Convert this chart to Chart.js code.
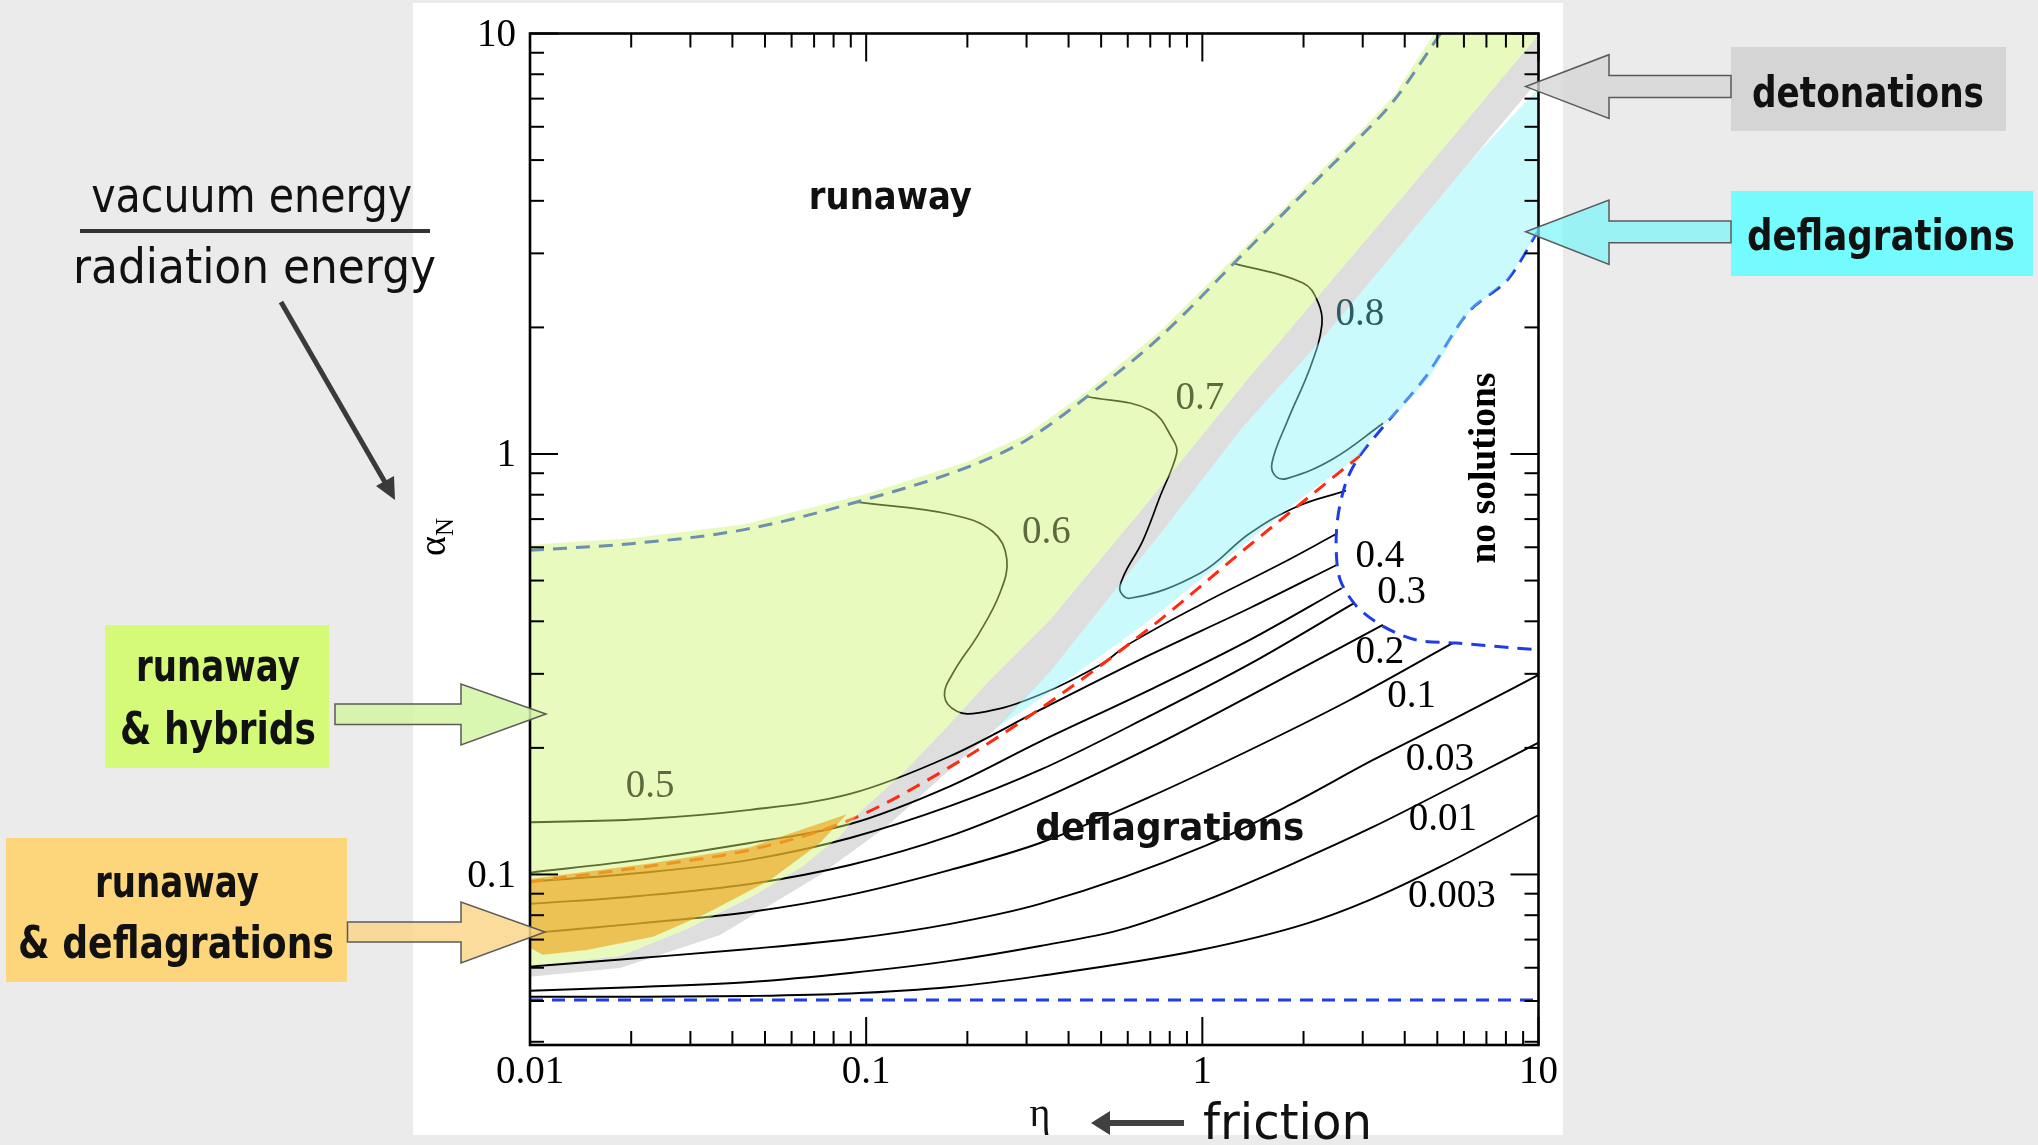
<!DOCTYPE html>
<html>
<head>
<meta charset="utf-8">
<script src="https://cdn.jsdelivr.net/npm/chart.js@4.4.1/dist/chart.umd.min.js"></script>
<style>
  html, body { margin: 0; padding: 0; background: #ebebeb; overflow: hidden; }
</style>
</head>
<body>
<canvas id="phaseChart" width="2038" height="1145"></canvas>
<script>
// axis ranges and tick labels
const etaTicks = [0.01, 0.1, 1, 10];
const etaTickText = ["0.01", "0.1", "1", "10"];
const alphaTicks = [0.1, 1, 10];
const alphaTickText = ["0.1", "1", "10"];

// boundaries [eta, alpha_N]
const runawayBoundary = [[0.01,0.59],[0.02,0.612],[0.043,0.66],[0.1,0.78],[0.2,0.93],[0.3,1.08],[0.46,1.38],[0.75,1.9],[1.3,2.95],[2.2,4.5],[2.9,5.6],[3.7,6.9],[5.2,10.2]];
const noSolutionBoundary = [[10,3.41],[8.1,2.6],[6.2,2.18],[4.6,1.52],[3.45,1.16],[2.94,0.99],[2.69,0.867],[2.54,0.723],[2.5,0.602],[2.57,0.502],[2.88,0.434],[3.45,0.389],[4.34,0.361],[5.7,0.355],[10,0.342]];
const minAlphaBoundary = [[0.01,0.0503],[10,0.0503]];
const hybridBoundary = [[0.01,0.0961],[0.02275,0.1047],[0.0451,0.1144],[0.0895,0.1348],[0.1776,0.1802],[0.352,0.2571],[0.698,0.3857],[1.385,0.6075],[2.94,0.99]];

// wall velocity contours
const contour003 = [[0.01,0.0512],[0.0212,0.0512],[0.0451,0.0514],[0.0895,0.0521],[0.178,0.054],[0.329,0.0574],[0.984,0.0661],[2.05,0.0765],[3.15,0.087],[5.09,0.1042],[10,0.1385]];
const contour001 = [[0.01,0.0529],[0.0212,0.054],[0.0451,0.0555],[0.0895,0.0583],[0.178,0.0623],[0.329,0.0676],[0.569,0.0738],[1.03,0.087],[1.82,0.1053],[3.22,0.1297],[5.68,0.1632],[10,0.2058]];
const contour003b = [[0.01,0.0604],[0.0212,0.0633],[0.0451,0.0665],[0.0895,0.0702],[0.178,0.0763],[0.329,0.0851],[1.032,0.1175],[1.82,0.1463],[3.22,0.1872],[5.68,0.2356],[10,0.2982]];
const contour01 = [[0.01,0.0725],[0.0212,0.0765],[0.0451,0.0814],[0.0895,0.0894],[0.178,0.1025],[0.329,0.1188],[0.698,0.1529],[1.385,0.1977],[2.748,0.26],[5.57,0.3554]];
const contour02 = [[0.01,0.0851],[0.0212,0.0889],[0.0451,0.0949],[0.0895,0.1053],[0.178,0.1235],[0.329,0.1504],[0.698,0.1999],[1.385,0.2658],[3.445,0.3921]];
const contour03 = [[0.01,0.0961],[0.0212,0.1008],[0.0451,0.1083],[0.0895,0.1221],[0.178,0.1455],[0.329,0.1772],[0.698,0.2382],[1.385,0.3167],[2.844,0.443]];
const contour04 = [[0.01,0.101],[0.0212,0.1083],[0.0451,0.1188],[0.0895,0.1318],[0.178,0.1623],[0.329,0.207],[0.698,0.2747],[1.385,0.3612],[2.597,0.4794]];
const contour05 = [[0.01,0.1331],[0.0212,0.1353],[0.0451,0.1424],[0.0895,0.1554],[0.178,0.1913],[0.329,0.2462],[0.698,0.3327],[1.385,0.4302],[2.509,0.5445]];
const contour06 = [[0.0939,0.768],[0.1776,0.719],[0.238,0.654],[0.262,0.563],[0.25,0.467],[0.216,0.373],[0.182,0.303],[0.171,0.266],[0.186,0.2445],[0.216,0.2423],[0.304,0.261],[0.496,0.315],[0.603,0.3525],[0.984,0.4375],[1.69,0.545],[2.5,0.645]];
const contour07 = [[0.453,1.37],[0.698,1.272],[0.819,1.08],[0.839,1.004],[0.748,0.791],[0.667,0.625],[0.5685,0.4835],[0.609,0.4538],[0.984,0.5203],[1.385,0.6477],[1.908,0.7494],[2.674,0.818]];
const contour08 = [[1.241,2.84],[1.992,2.551],[2.207,2.299],[2.268,2.027],[2.096,1.61],[1.791,1.198],[1.611,0.952],[1.655,0.884],[1.791,0.875],[2.446,0.973],[3.45,1.183]];

// shaded regions
const greenUpper = [[0.01,0.608],[0.02,0.63],[0.043,0.68],[0.1,0.803],[0.2,0.958],[0.3,1.112],[0.46,1.42],[0.75,1.96],[1.3,3.04],[2.2,4.64],[2.9,5.77],[3.7,7.1],[5.1,10.5],[10,10.5]];
const greenLower = [[0.01,0.0606],[0.01853,0.064],[0.0293,0.0742],[0.0461,0.0889],[0.0649,0.1047],[0.0836,0.1235],[0.0958,0.1408],[0.1287,0.1743],[0.1739,0.2243],[0.2288,0.2854],[0.352,0.4028],[0.698,0.7775],[1.357,1.5],[3.87,4.02],[10,9.93]];
const greyLower = [[10,7.75],[6.29,4.985],[3.73,3.013],[2.207,1.826],[1.308,1.149],[0.774,0.667],[0.352,0.3031],[0.25,0.2267],[0.1812,0.1804],[0.1151,0.13],[0.0729,0.0997],[0.03674,0.0718],[0.01853,0.0599],[0.01,0.0571]];
const cyanRegion = [[10,7.41],[10,3.41],[8.11,2.6],[6.21,2.176],[4.75,1.525],[3.805,1.249],[3.33,1.147],[2.94,0.9945],[1.951,0.78],[1.385,0.625],[0.698,0.4028],[0.4528,0.3133],[0.2868,0.2422],[0.2416,0.2231],[0.352,0.3031],[0.774,0.667],[1.308,1.149],[2.207,1.826],[3.73,3.013],[6.29,4.985],[10,7.41]];
const orangeRegion = [[0.01,0.0975],[0.02275,0.1062],[0.0451,0.116],[0.0875,0.139],[0.0729,0.1188],[0.0518,0.097],[0.03355,0.0809],[0.02322,0.0711],[0.01475,0.0661],[0.0109,0.0644],[0.01,0.0669]];

const contourLabels = ["0.003", "0.01", "0.03", "0.1", "0.2", "0.3", "0.4", "0.5", "0.6", "0.7", "0.8"];

const pts = arr => arr.map(([x, y]) => ({ x, y }));
const curve = (arr, color, width, dash, order, tension, mode) => ({
  data: pts(arr), showLine: true, borderColor: color, borderWidth: width,
  borderDash: dash, pointRadius: 0, fill: false, tension: tension,
  cubicInterpolationMode: mode || "default", order: order
});
const area = (arr, color, order) => ({
  data: pts(arr), showLine: true, borderColor: "transparent", backgroundColor: color,
  pointRadius: 0, fill: "shape", tension: 0, order: order
});

const greenPoly = [...greenUpper, ...greenLower.slice().reverse()];
const greyPoly = [...greenLower, ...greyLower];

const BLUE = "#1f3de6";
const fan = [contour003, contour001, contour003b, contour01, contour02, contour03, contour04, contour05];
const datasets = [
  area(greyPoly, "#dedede", 50),
  ...fan.map(c => curve(c, "#000", 1.9, [], 40, 0.4, "monotone")),
  curve(contour06, "#000", 1.7, [], 40, 0.4),
  curve(contour07, "#000", 1.7, [], 40, 0.4),
  curve(contour08, "#000", 1.7, [], 40, 0.4),
  curve(hybridBoundary, "#ff2a12", 3, [14, 9], 35, 0.4, "monotone"),
  curve(runawayBoundary, BLUE, 3, [14, 9], 35, 0.4, "monotone"),
  curve(noSolutionBoundary, BLUE, 3, [14, 9], 35, 0.3),
  curve(minAlphaBoundary, BLUE, 3, [13, 9], 35, 0),
  area(greenPoly, "rgba(205,245,110,0.45)", 20),
  area(cyanRegion, "rgba(140,245,250,0.45)", 20),
  area(orangeRegion, "rgba(240,160,20,0.62)", 10)
];

function fitText(c, text, x, y, font, width) {
  c.font = font;
  const w = c.measureText(text).width;
  c.save();
  c.translate(x, y);
  c.scale(width / w, 1);
  c.textAlign = "center";
  c.fillText(text, 0, 0);
  c.restore();
}

function arrowShape(c, pts, fill) {
  c.beginPath();
  pts.forEach(([x, y], i) => (i ? c.lineTo(x, y) : c.moveTo(x, y)));
  c.closePath();
  c.fillStyle = fill;
  c.fill();
  c.strokeStyle = "#5a5a5a";
  c.lineWidth = 1.5;
  c.stroke();
}

function minorTicks(lo, hi) {
  const out = [];
  for (let d = 0.001; d < hi; d *= 10) {
    for (let k = 2; k <= 9; k++) {
      const v = k * d;
      if (v > lo * 1.0001 && v < hi * 0.9999) out.push(v);
    }
  }
  return out;
}

const decor = {
  id: "decor",
  beforeDraw(chart) {
    const c = chart.ctx;
    c.save();
    c.fillStyle = "#ebebeb";
    c.fillRect(0, 0, chart.width, chart.height);
    c.fillStyle = "#ffffff";
    c.fillRect(413, 3, 1150, 1132);
    c.restore();
  },
  afterDraw(chart) {
    const c = chart.ctx, a = chart.chartArea;
    const X = chart.scales.x, Y = chart.scales.y;
    const px = v => X.getPixelForValue(v), py = v => Y.getPixelForValue(v);
    const seg = (x1, y1, x2, y2) => { c.beginPath(); c.moveTo(x1, y1); c.lineTo(x2, y2); c.stroke(); };
    c.save();

    // frame + inward ticks
    c.strokeStyle = "#000";
    c.lineWidth = 2.6;
    c.strokeRect(a.left, a.top, a.right - a.left, a.bottom - a.top);
    c.lineWidth = 2;
    minorTicks(X.min, X.max).forEach(v => { const x = px(v); seg(x, a.bottom, x, a.bottom - 14); seg(x, a.top, x, a.top + 14); });
    etaTicks.forEach(v => { const x = px(v); seg(x, a.bottom, x, a.bottom - 28); seg(x, a.top, x, a.top + 28); });
    minorTicks(Y.min, Y.max).forEach(v => { const y = py(v); seg(a.left, y, a.left + 14, y); seg(a.right, y, a.right - 14, y); });
    alphaTicks.forEach(v => { const y = py(v); seg(a.left, y, a.left + 28, y); seg(a.right, y, a.right - 28, y); });

    // tick labels
    c.fillStyle = "#000";
    c.font = '39px "Liberation Serif"';
    c.textAlign = "center";
    c.textBaseline = "alphabetic";
    etaTicks.forEach((v, i) => c.fillText(etaTickText[i], px(v), a.bottom + 38));
    c.textAlign = "right";
    c.textBaseline = "middle";
    alphaTicks.forEach((v, i) => c.fillText(alphaTickText[i], a.left - 14, py(v) + 2));

    // contour labels
    const labelAt = [[5.525,0.0884],[5.195,0.1348],[5.09,0.1872],[4.195,0.2643],[3.376,0.3363],[3.915,0.467],[3.376,0.5689],[0.02275,0.162],[0.3439,0.6487],[0.984,1.351],[2.94,2.146]];
    const labelColor = ["#000","#000","#000","#000","#000","#000","#000","#5c6b3e","#5c6b3e","#5c6b3e","#2f5a60"];
    c.textAlign = "center";
    contourLabels.forEach((t, i) => {
      c.fillStyle = labelColor[i];
      c.fillText(t, px(labelAt[i][0]), py(labelAt[i][1]));
    });

    // region names inside the plot
    c.fillStyle = "#111";
    c.textBaseline = "alphabetic";
    fitText(c, "runaway", px(0.118), py(4.07) + 11, 'bold 38px "DejaVu Sans"', 163);
    fitText(c, "deflagrations", px(0.8), py(0.1262) + 8, 'bold 38px "DejaVu Sans"', 269);
    c.save();
    c.translate(px(6.975), py(0.926));
    c.rotate(-Math.PI / 2);
    c.fillStyle = "#000";
    c.textBaseline = "middle";
    fitText(c, "no solutions", 0, 0, 'bold 37px "Liberation Serif"', 191);
    c.restore();

    // axis titles
    c.save();
    c.translate(445, 556);
    c.rotate(-Math.PI / 2);
    c.fillStyle = "#000";
    c.textAlign = "left";
    c.textBaseline = "alphabetic";
    c.font = '38px "Liberation Serif"';
    c.fillText("\u03b1", 0, 0);
    const aw = c.measureText("\u03b1").width;
    c.font = '25px "Liberation Serif"';
    c.fillText("N", aw, 8);
    c.restore();
    c.font = '40px "Liberation Serif"';
    c.textAlign = "center";
    c.fillText("\u03b7", 1040, 1126);

    // friction arrow
    c.strokeStyle = "#404040";
    c.fillStyle = "#404040";
    c.lineWidth = 6;
    seg(1184, 1123, 1104, 1123);
    c.beginPath();
    c.moveTo(1091, 1123); c.lineTo(1110, 1111); c.lineTo(1110, 1135); c.closePath(); c.fill();
    c.fillStyle = "#111";
    fitText(c, "friction", 1287.5, 1139, '50px "DejaVu Sans"', 169);

    // fraction on the left
    fitText(c, "vacuum energy", 251.7, 212, '48px "DejaVu Sans"', 321);
    fitText(c, "radiation energy", 254.5, 283, '48px "DejaVu Sans"', 363);
    c.strokeStyle = "#333";
    c.lineWidth = 4;
    seg(80, 231, 430, 231);
    c.strokeStyle = "#3a3a3a";
    c.fillStyle = "#3a3a3a";
    c.lineWidth = 5;
    seg(281, 302, 386, 484);
    c.beginPath();
    c.moveTo(395, 500); c.lineTo(376, 486); c.lineTo(394, 476); c.closePath(); c.fill();

    // labelled boxes and arrows
    c.fillStyle = "#d4fa78";
    c.fillRect(105, 625, 224, 143);
    c.fillStyle = "#fdd57a";
    c.fillRect(6, 838, 341, 144);
    c.fillStyle = "#d5d5d5";
    c.fillRect(1731, 47, 275, 84);
    c.fillStyle = "#74fbfd";
    c.fillRect(1731, 191, 302, 85);

    arrowShape(c, [[335,704],[461,704],[461,684],[546,714],[461,745],[461,724.5],[335,724.5]], "rgba(212,246,165,0.85)");
    arrowShape(c, [[347.5,922],[461,922],[461,902],[545,932],[461,963],[461,942],[347.5,942]], "rgba(252,214,140,0.85)");
    arrowShape(c, [[1731,75.6],[1609,75.6],[1609,54.7],[1525.7,86.6],[1609,118.5],[1609,97.6],[1731,97.6]], "rgba(214,214,214,0.8)");
    arrowShape(c, [[1731,221],[1609,221],[1609,200],[1525.7,231.8],[1609,264.4],[1609,242.8],[1731,242.8]], "rgba(120,245,250,0.7)");

    c.fillStyle = "#111";
    fitText(c, "runaway", 218, 681, 'bold 44px "DejaVu Sans"', 164);
    fitText(c, "& hybrids", 218, 743.5, 'bold 44px "DejaVu Sans"', 196);
    fitText(c, "runaway", 177, 897, 'bold 44px "DejaVu Sans"', 164);
    fitText(c, "& deflagrations", 176, 957.6, 'bold 44px "DejaVu Sans"', 316);
    fitText(c, "detonations", 1868, 107, 'bold 42px "DejaVu Sans"', 232);
    fitText(c, "deflagrations", 1881, 249.6, 'bold 42px "DejaVu Sans"', 268);

    c.restore();
  }
};

new Chart(document.getElementById("phaseChart"), {
  type: "scatter",
  data: { datasets: datasets },
  options: {
    responsive: false,
    animation: false,
    devicePixelRatio: 1,
    events: [],
    layout: { padding: { left: 530, top: 33.5, right: 499.5, bottom: 100 } },
    scales: {
      x: { type: "logarithmic", min: 0.01, max: 10, display: false },
      y: { type: "logarithmic", min: 0.0393, max: 10, display: false }
    },
    plugins: {
      legend: { display: false },
      tooltip: { enabled: false }
    }
  },
  plugins: [decor]
});
</script>
</body>
</html>
